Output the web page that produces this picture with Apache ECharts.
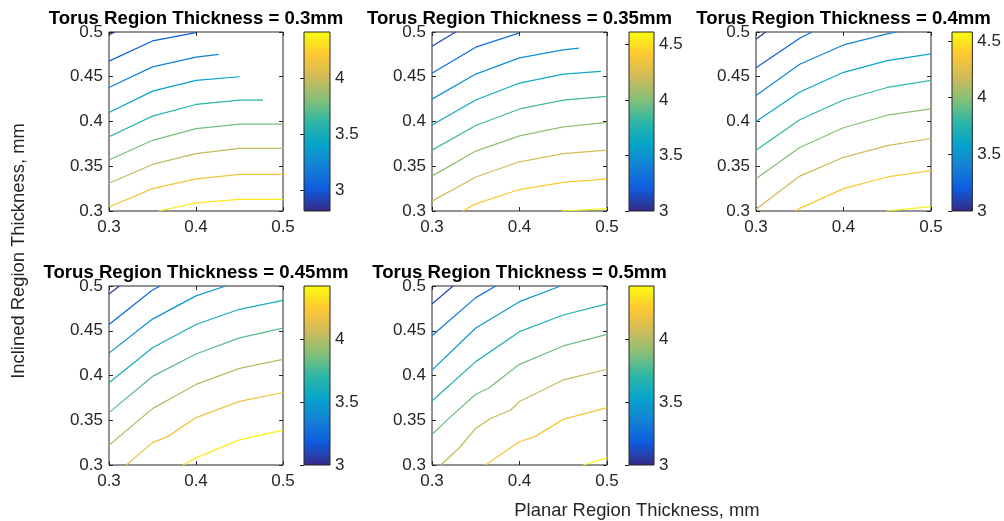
<!DOCTYPE html>
<html><head><meta charset="utf-8">
<script src="https://cdn.jsdelivr.net/npm/echarts@6/dist/echarts.min.js"></script>
<style>html,body{margin:0;padding:0;background:#fff}#c{width:1004px;height:521px}</style>
</head><body><div id="c"></div>
<script>
// ---------- data ----------
const panelTitles = [
  'Torus Region Thickness = 0.3mm',
  'Torus Region Thickness = 0.35mm',
  'Torus Region Thickness = 0.4mm',
  'Torus Region Thickness = 0.45mm',
  'Torus Region Thickness = 0.5mm'
];
const xLabel = 'Planar Region Thickness, mm';
const yLabel = 'Inclined Region Thickness, mm';
const xTicks = [0.3, 0.4, 0.5];
const yTicks = [0.3, 0.35, 0.4, 0.45, 0.5];
const colorMin = [2.81, 3.0, 3.0, 3.0, 3.0];
const colorMax = [4.42, 4.61, 4.58, 4.42, 4.42];
const colorTicks = [[3, 3.5, 4], [3, 3.5, 4, 4.5], [3, 3.5, 4, 4.5], [3, 3.5, 4], [3, 3.5, 4]];

// contour levels and contour lines ([planar, inclined] points) per panel
const levels03 = [2.83, 3.02, 3.21, 3.40, 3.59, 3.78, 3.97, 4.16, 4.35];
const contours03 = [
  [[0.3,0.497],[0.307,0.5]],
  [[0.3,0.4675],[0.35,0.49],[0.4,0.4993]],
  [[0.3,0.438],[0.35,0.461],[0.4,0.472],[0.426,0.475]],
  [[0.3,0.410],[0.35,0.434],[0.4,0.446],[0.45,0.450]],
  [[0.3,0.383],[0.35,0.406],[0.4,0.419],[0.45,0.424],[0.477,0.424]],
  [[0.3,0.357],[0.35,0.379],[0.4,0.392],[0.45,0.397],[0.5,0.397]],
  [[0.3,0.331],[0.35,0.352],[0.4,0.364],[0.45,0.370],[0.5,0.370]],
  [[0.3,0.3045],[0.35,0.325],[0.4,0.336],[0.45,0.341],[0.5,0.341]],
  [[0.357,0.3],[0.4,0.309],[0.45,0.313],[0.5,0.313]]
];
const levels035 = [3.10, 3.29, 3.48, 3.66, 3.85, 4.04, 4.22, 4.41, 4.60];
const contours035 = [
  [[0.3,0.484],[0.327,0.5]],
  [[0.3,0.454],[0.35,0.483],[0.4,0.499]],
  [[0.3,0.425],[0.35,0.453],[0.4,0.471],[0.45,0.480],[0.468,0.482]],
  [[0.3,0.396],[0.35,0.424],[0.4,0.443],[0.45,0.453],[0.493,0.456]],
  [[0.3,0.368],[0.35,0.3955],[0.4,0.414],[0.45,0.424],[0.5,0.428]],
  [[0.3,0.339],[0.35,0.367],[0.4,0.384],[0.45,0.394],[0.5,0.399]],
  [[0.3,0.311],[0.35,0.338],[0.4,0.355],[0.45,0.364],[0.5,0.368]],
  [[0.335,0.3],[0.35,0.308],[0.4,0.324],[0.45,0.332],[0.5,0.336]],
  [[0.448,0.3],[0.5,0.3026]]
];
const levels04 = [3.05, 3.24, 3.43, 3.61, 3.80, 3.99, 4.18, 4.37, 4.55];
const contours04 = [
  [[0.3,0.492],[0.311,0.5]],
  [[0.3,0.460],[0.35,0.493],[0.364,0.5]],
  [[0.3,0.429],[0.35,0.464],[0.4,0.4855],[0.45,0.498],[0.461,0.5]],
  [[0.3,0.400],[0.35,0.433],[0.4,0.455],[0.45,0.468],[0.5,0.4755]],
  [[0.3,0.368],[0.35,0.402],[0.4,0.424],[0.45,0.438],[0.5,0.446]],
  [[0.3,0.336],[0.35,0.371],[0.4,0.393],[0.45,0.407],[0.5,0.414]],
  [[0.3,0.302],[0.35,0.339],[0.4,0.360],[0.45,0.373],[0.5,0.381]],
  [[0.345,0.3],[0.35,0.303],[0.4,0.325],[0.45,0.338],[0.5,0.345]],
  [[0.449,0.3],[0.5,0.305]]
];
const levels045 = [3.05, 3.24, 3.43, 3.61, 3.80, 3.99, 4.18, 4.37];
const contours045 = [
  [[0.3,0.491],[0.312,0.5]],
  [[0.3,0.457],[0.35,0.4955],[0.359,0.5]],
  [[0.3,0.425],[0.35,0.463],[0.4,0.489],[0.434,0.5]],
  [[0.3,0.392],[0.35,0.431],[0.4,0.457],[0.45,0.474],[0.5,0.484]],
  [[0.3,0.3585],[0.35,0.399],[0.4,0.424],[0.45,0.442],[0.5,0.453]],
  [[0.3,0.322],[0.35,0.363],[0.4,0.390],[0.45,0.408],[0.5,0.418]],
  [[0.32,0.3],[0.35,0.325],[0.368,0.332],[0.4,0.353],[0.45,0.371],[0.5,0.381]],
  [[0.385,0.3],[0.4,0.308],[0.45,0.328],[0.5,0.339]]
];
const levels05 = [3.10, 3.29, 3.48, 3.66, 3.85, 4.04, 4.22, 4.41];
const contours05 = [
  [[0.3,0.480],[0.324,0.5]],
  [[0.3,0.4445],[0.35,0.487],[0.373,0.5]],
  [[0.3,0.406],[0.35,0.453],[0.4,0.4825],[0.447,0.5]],
  [[0.3,0.3715],[0.35,0.4155],[0.4,0.449],[0.45,0.4676],[0.5,0.480]],
  [[0.3,0.334],[0.318,0.351],[0.35,0.379],[0.365,0.386],[0.4,0.4125],[0.45,0.433],[0.5,0.446]],
  [[0.31,0.3],[0.331,0.319],[0.35,0.341],[0.367,0.352],[0.39,0.3615],[0.4,0.371],[0.45,0.395],[0.5,0.407]],
  [[0.361,0.3],[0.4,0.326],[0.418,0.332],[0.45,0.351],[0.5,0.364]],
  [[0.473,0.3],[0.5,0.308]]
];
const levelsAll = [levels03, levels035, levels04, levels045, levels05];
const contoursAll = [contours03, contours035, contours04, contours045, contours05];

// ---------- styling / layout ----------
const FONT = "'Liberation Sans', Arial, Helvetica, sans-serif";
const INK = '#262626';
const parula = ['#352a87','#0f5cdd','#1481d6','#06a4ca','#2eb7a4','#87bf77','#d1bb59','#fec832','#f9fb0e'];
function hexToRgb(h){return [parseInt(h.substr(1,2),16),parseInt(h.substr(3,2),16),parseInt(h.substr(5,2),16)];}
function cmap(t){
  t = Math.max(0, Math.min(1, t));
  const f = t * (parula.length - 1);
  const i = Math.min(parula.length - 2, Math.floor(f));
  const u = f - i;
  const a = hexToRgb(parula[i]), b = hexToRgb(parula[i+1]);
  const c = a.map((v,k)=>Math.round(v + (b[k]-v)*u));
  return 'rgb(' + c.join(',') + ')';
}
const plotBoxes = [
  {left:109, top:32, width:174, height:179},
  {left:432, top:32, width:175, height:179},
  {left:756, top:32, width:175, height:179},
  {left:109, top:286, width:174, height:179},
  {left:432, top:286, width:175, height:179}
];
const barBoxes = [
  {left:304, top:32, width:26, height:179},
  {left:629, top:32, width:25, height:179},
  {left:952, top:32, width:25, height:179},
  {left:304, top:286, width:26, height:179},
  {left:629, top:286, width:25, height:179}
];

const grid = [], xAxis = [], yAxis = [], series = [], graphic = [];
const labelStyle = {fontFamily: FONT, fontSize: 17, color: INK};
const tickStyle = {show:true, inside:true, length:4, lineStyle:{color:INK, width:1}};

plotBoxes.forEach((b, p) => {
  grid.push(Object.assign({show:true, borderColor:INK, borderWidth:1, backgroundColor:'#fff'}, b));
  xAxis.push({type:'value', gridIndex:p, min:0.3, max:0.5, position:'bottom',
    axisLine:{show:false}, splitLine:{show:false},
    axisTick:Object.assign({customValues:xTicks}, tickStyle),
    axisLabel:Object.assign({customValues:xTicks, margin:8}, labelStyle)});
  xAxis.push({type:'value', gridIndex:p, min:0.3, max:0.5, position:'top',
    axisLine:{show:false}, splitLine:{show:false}, axisLabel:{show:false},
    axisTick:Object.assign({customValues:xTicks}, tickStyle)});
  yAxis.push({type:'value', gridIndex:p, min:0.3, max:0.5, position:'left',
    axisLine:{show:false}, splitLine:{show:false},
    axisTick:Object.assign({customValues:yTicks}, tickStyle),
    axisLabel:Object.assign({customValues:yTicks, margin:6}, labelStyle)});
  yAxis.push({type:'value', gridIndex:p, min:0.3, max:0.5, position:'right',
    axisLine:{show:false}, splitLine:{show:false}, axisLabel:{show:false},
    axisTick:Object.assign({customValues:yTicks}, tickStyle)});
  const lv = levelsAll[p];
  contoursAll[p].forEach((line, k) => {
    series.push({type:'line', xAxisIndex:2*p, yAxisIndex:2*p, data:line,
      showSymbol:false, symbol:'none', silent:true, animation:false, clip:true, z:3,
      lineStyle:{color:cmap((lv[k]-colorMin[p])/(colorMax[p]-colorMin[p])), width:1.25}});
  });
  graphic.push({type:'text', x:b.left + b.width/2, y:b.top - 13.5,
    style:{text:panelTitles[p], font:'bold 18.6px ' + FONT, fill:'#000',
      textAlign:'center', textVerticalAlign:'middle'}});
});

barBoxes.forEach((b, p) => {
  const gi = plotBoxes.length + p;
  grid.push(Object.assign({show:true, borderColor:INK, borderWidth:1, backgroundColor:'transparent', z:4}, b));
  xAxis.push({type:'value', gridIndex:gi, min:0, max:1, show:false});
  yAxis.push({type:'value', gridIndex:gi, min:colorMin[p], max:colorMax[p], position:'right',
    axisLine:{show:false}, splitLine:{show:false},
    axisTick:Object.assign({customValues:colorTicks[p]}, tickStyle),
    axisLabel:Object.assign({customValues:colorTicks[p], margin:5}, labelStyle)});
  const cmin = colorMin[p], cmax = colorMax[p];
  series.push({type:'custom', xAxisIndex:10 + p, yAxisIndex:10 + p, silent:true, animation:false,
    data:[[0, cmin, 1, cmax]],
    renderItem:function(params, api){
      const p0 = api.coord([api.value(0), api.value(1)]);
      const p1 = api.coord([api.value(2), api.value(3)]);
      return {type:'rect', shape:{x:p0[0], y:p1[1], width:p1[0]-p0[0], height:p0[1]-p1[1]},
        style:{fill:{type:'linear', x:0, y:1, x2:0, y2:0,
          colorStops:parula.map((c,i)=>({offset:i/(parula.length-1), color:c}))}}};
    }});
});

graphic.push({type:'text', x:637, y:511,
  style:{text:xLabel, font:'18.4px ' + FONT, fill:INK, textAlign:'center', textVerticalAlign:'middle'}});
graphic.push({type:'text', x:19, y:251, rotation:Math.PI/2,
  style:{text:yLabel, font:'18.4px ' + FONT, fill:INK, textAlign:'center', textVerticalAlign:'middle'}});

const chart = echarts.init(document.getElementById('c'), null, {renderer:'canvas'});
chart.setOption({animation:false, backgroundColor:'#fff', grid, xAxis, yAxis, series, graphic});
</script></body></html>
